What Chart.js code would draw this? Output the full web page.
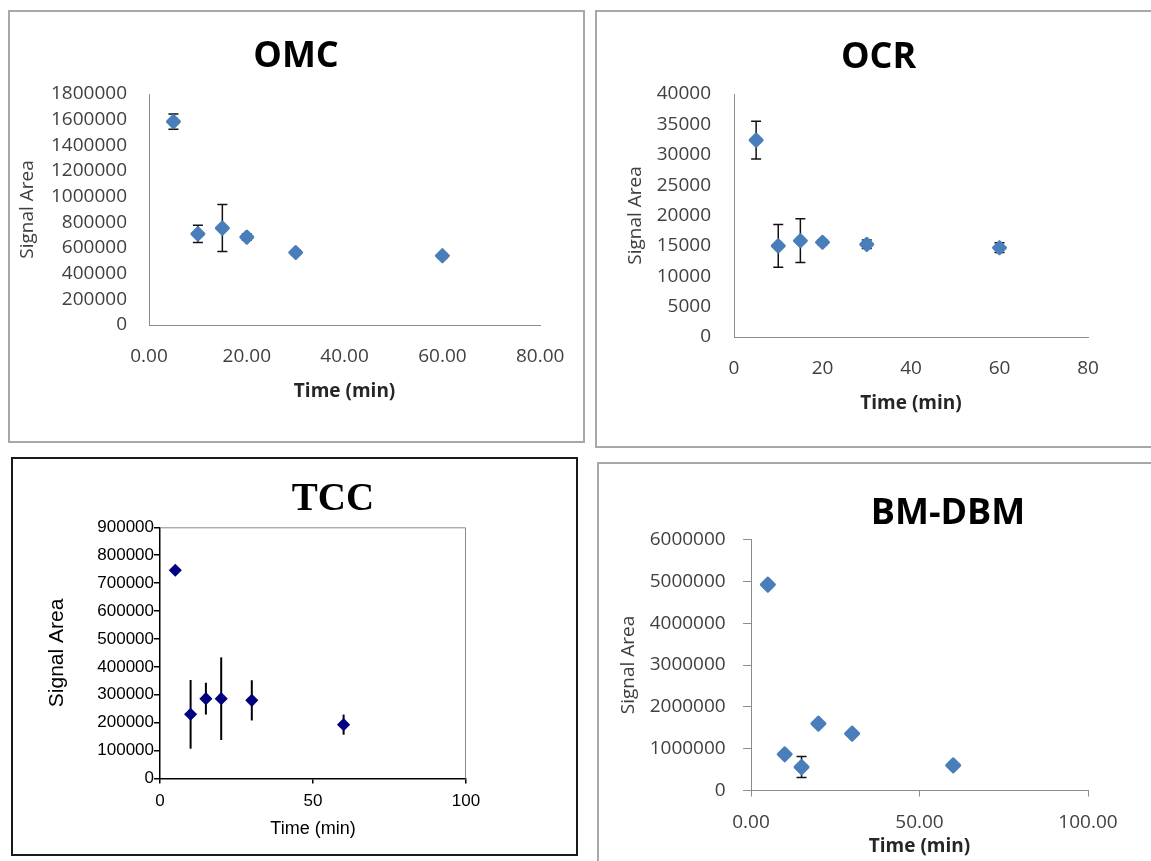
<!DOCTYPE html>
<html>
<head>
<meta charset="utf-8">
<title>Signal Area vs Time</title>
<script src="https://cdn.jsdelivr.net/npm/chart.js@4.4.1/dist/chart.umd.min.js"></script>
<style>
  html, body { margin: 0; padding: 0; background: #fff; }
  body { width: 1151px; height: 861px; overflow: hidden; position: relative; }
  .panel { position: absolute; box-sizing: border-box; border: 2px solid #a8a8a8; }
  .panel.dark { border: 2px solid #1a1a1a; }
  canvas { position: absolute; }
</style>
</head>
<body>
<div class="panel" style="left:8px;top:10px;width:577px;height:433px"></div>
<div class="panel" style="left:595px;top:10px;width:570px;height:438px"></div>
<div class="panel dark" style="left:11px;top:457px;width:567px;height:399px"></div>
<div class="panel" style="left:597px;top:462px;width:570px;height:410px"></div>

<canvas id="omcChart" width="577" height="433" style="left:8px;top:10px"></canvas>
<canvas id="ocrChart" width="555" height="438" style="left:595px;top:10px"></canvas>
<canvas id="tccChart" width="567" height="399" style="left:11px;top:457px"></canvas>
<canvas id="bmChart" width="554" height="399" style="left:597px;top:462px"></canvas>

<script>
// Sampling times (min), same for all four compounds
const times = [5, 10, 15, 20, 30, 60];

// OMC
const omcArea = [1585000, 710000, 755000, 685000, 565000, 540000];
const omcErr = [60000, 68000, 183000, 25000, 15000, 15000];
const omcXTicks = [0, 20, 40, 60, 80];
const omcYTicks = [0, 200000, 400000, 600000, 800000, 1000000, 1200000, 1400000, 1600000, 1800000];

// OCR
const ocrArea = [32400, 15000, 15850, 15600, 15250, 14700];
const ocrErr = [3100, 3500, 3600, 400, 700, 800];
const ocrXTicks = [0, 20, 40, 60, 80];
const ocrYTicks = [0, 5000, 10000, 15000, 20000, 25000, 30000, 35000, 40000];

// TCC
const tccArea = [746000, 230000, 286000, 286000, 280000, 193000];
const tccErr = [0, 123000, 57000, 148000, 72000, 36000];
const tccXTicks = [0, 50, 100];
const tccYTicks = [0, 100000, 200000, 300000, 400000, 500000, 600000, 700000, 800000, 900000];

// BM-DBM
const bmArea = [4920000, 865000, 560000, 1600000, 1360000, 600000];
const bmErr = [0, 0, 250000, 0, 0, 0];
const bmXTicks = [0, 50, 100];
const bmYTicks = [0, 1000000, 2000000, 3000000, 4000000, 5000000, 6000000];

const CALIBRI = "'Open Sans', 'Noto Sans', sans-serif";
const ARIAL = "'Liberation Sans', Arial, sans-serif";
const TIMES = "'Liberation Serif', 'Times New Roman', serif";

// vertical error bars, drawn behind the markers
const errorBars = {
  id: "errorBars",
  beforeDatasetsDraw(chart, args, opts) {
    const ctx = chart.ctx;
    const xs = chart.scales.x, ys = chart.scales.y;
    chart.data.datasets.forEach((ds) => {
      if (!ds.errors) return;
      ctx.save();
      ctx.strokeStyle = opts.color;
      ctx.lineWidth = opts.width;
      ds.data.forEach((pt, i) => {
        const e = ds.errors[i];
        if (!e) return;
        const px = xs.getPixelForValue(pt.x);
        const top = ys.getPixelForValue(pt.y + e);
        const bot = ys.getPixelForValue(pt.y - e);
        ctx.beginPath();
        ctx.moveTo(px, top);
        ctx.lineTo(px, bot);
        if (opts.cap) {
          ctx.moveTo(px - opts.cap, top);
          ctx.lineTo(px + opts.cap, top);
          ctx.moveTo(px - opts.cap, bot);
          ctx.lineTo(px + opts.cap, bot);
        }
        ctx.stroke();
      });
      ctx.restore();
    });
    // softer marker corners, like the Excel markers
    ctx.lineJoin = opts.join || "miter";
  },
};

// chart title placed freely inside the panel
const panelTitle = {
  id: "panelTitle",
  afterDraw(chart, args, opts) {
    const ctx = chart.ctx;
    ctx.save();
    ctx.font = opts.font;
    ctx.fillStyle = opts.color;
    ctx.textAlign = "center";
    ctx.textBaseline = "middle";
    ctx.fillText(opts.text, opts.x, opts.y);
    ctx.restore();
  },
};

// top and right edges of the plot area (TCC only)
const plotFrame = {
  id: "plotFrame",
  beforeDatasetsDraw(chart, args, opts) {
    if (!opts.color) return;
    const { ctx, chartArea: a } = chart;
    ctx.save();
    ctx.strokeStyle = opts.color;
    ctx.lineWidth = 1;
    ctx.beginPath();
    ctx.moveTo(a.left, a.top + 0.5);
    ctx.lineTo(a.right - 0.5, a.top + 0.5);
    ctx.lineTo(a.right - 0.5, a.bottom);
    ctx.stroke();
    ctx.restore();
  },
};

function makeScatter(id, s) {
  const tickFont = { family: s.family, size: s.tickSize };
  return new Chart(document.getElementById(id), {
    type: "scatter",
    data: {
      datasets: [
        {
          data: times.map((t, i) => ({ x: t, y: s.ys[i] })),
          errors: s.errs,
          pointStyle: "rectRot",
          pointRadius: s.radius,
          pointHoverRadius: s.radius,
          backgroundColor: s.color,
          borderColor: s.color,
          borderWidth: s.markerBorder,
        },
      ],
    },
    options: {
      responsive: false,
      animation: false,
      devicePixelRatio: 1,
      events: [],
      layout: { padding: { left: s.padL, right: s.padR, top: s.padT, bottom: 0 } },
      plugins: {
        legend: { display: false },
        tooltip: { enabled: false },
        errorBars: s.errStyle,
        panelTitle: s.title,
        plotFrame: { color: s.frame || null },
      },
      scales: {
        x: {
          type: "linear",
          position: "bottom",
          min: s.xTicks[0],
          max: s.xTicks[s.xTicks.length - 1],
          afterBuildTicks: (sc) => { sc.ticks = s.xTicks.map((v) => ({ value: v })); },
          afterFit: (sc) => { sc.height = s.xH; },
          ticks: {
            callback: s.xFormat,
            font: tickFont,
            color: s.tickColor,
            padding: s.xTickPad,
            maxRotation: 0,
            autoSkip: false,
          },
          grid: {
            display: s.xTickLen > 0,
            drawOnChartArea: false,
            drawTicks: true,
            tickLength: s.xTickLen,
            color: s.axisColor,
            lineWidth: s.axisWidth,
          },
          border: { display: true, color: s.axisColor, width: s.axisWidth },
          title: {
            display: true,
            text: "Time (min)",
            font: { family: s.family, size: s.xTitleSize, weight: s.xTitleWeight },
            color: s.xTitleColor,
            padding: { top: 0, bottom: s.xTitlePad },
          },
        },
        y: {
          type: "linear",
          position: "left",
          min: s.yTicks[0],
          max: s.yTicks[s.yTicks.length - 1],
          afterBuildTicks: (sc) => { sc.ticks = s.yTicks.map((v) => ({ value: v })); },
          afterFit: (sc) => { sc.width = s.yW; },
          ticks: {
            callback: (v) => String(v),
            font: tickFont,
            color: s.tickColor,
            padding: s.yTickPad,
            autoSkip: false,
          },
          grid: {
            display: s.yTickLen > 0,
            drawOnChartArea: false,
            drawTicks: true,
            tickLength: s.yTickLen,
            color: s.axisColor,
            lineWidth: s.axisWidth,
          },
          border: { display: true, color: s.axisColor, width: s.axisWidth },
          title: {
            display: true,
            text: "Signal Area",
            font: { family: s.family, size: s.yTitleSize },
            color: s.yTitleColor,
            padding: { top: 0, bottom: 0 },
          },
        },
      },
    },
    plugins: [errorBars, panelTitle, plotFrame],
  });
}

const excelBlue = "#4a7ebb";
const capBars = { color: "#111", width: 1.5, cap: 5, join: "round" };

makeScatter("omcChart", {
  ys: omcArea, errs: omcErr, xTicks: omcXTicks, yTicks: omcYTicks,
  xFormat: (v) => v.toFixed(2),
  family: CALIBRI, tickSize: 19, tickColor: "#404040",
  color: excelBlue, radius: 6, markerBorder: 3, errStyle: capBars,
  axisColor: "#8c8c8c", axisWidth: 1, xTickLen: 0, yTickLen: 0,
  padL: 8.6, padR: 41, padT: 84, xH: 118, yW: 132.4,
  xTickPad: 20.6, yTickPad: 22,
  xTitleSize: 19, xTitleWeight: "bold", xTitleColor: "#262626", xTitlePad: 40.3,
  yTitleSize: 19, yTitleColor: "#404040",
  title: { text: "OMC", font: "bold 36px " + CALIBRI, color: "#000", x: 288, y: 46.8 },
});

makeScatter("ocrChart", {
  ys: ocrArea, errs: ocrErr, xTicks: ocrXTicks, yTicks: ocrYTicks,
  xFormat: (v) => String(v),
  family: CALIBRI, tickSize: 19, tickColor: "#404040",
  color: excelBlue, radius: 6, markerBorder: 3, errStyle: capBars,
  axisColor: "#8c8c8c", axisWidth: 1, xTickLen: 0, yTickLen: 0,
  padL: 29.3, padR: 62, padT: 84, xH: 111, yW: 109.7,
  xTickPad: 20.6, yTickPad: 23,
  xTitleSize: 19, xTitleWeight: "bold", xTitleColor: "#262626", xTitlePad: 33.3,
  yTitleSize: 19, yTitleColor: "#404040",
  title: { text: "OCR", font: "bold 36px " + CALIBRI, color: "#000", x: 283.6, y: 47.6 },
});

makeScatter("tccChart", {
  ys: tccArea, errs: tccErr, xTicks: tccXTicks, yTicks: tccYTicks,
  xFormat: (v) => String(v),
  family: ARIAL, tickSize: 17, tickColor: "#000",
  color: "#000080", radius: 5.5, markerBorder: 1.5,
  errStyle: { color: "#000", width: 2, cap: 0, join: "miter" },
  axisColor: "#000", axisWidth: 1.5, xTickLen: 5, yTickLen: 6,
  padL: 33.9, padR: 112, padT: 70.3, xH: 77.5, yW: 115.1,
  xTickPad: 7.3, yTickPad: 0,
  xTitleSize: 18, xTitleWeight: "normal", xTitleColor: "#000", xTitlePad: 16.2,
  yTitleSize: 21, yTitleColor: "#000",
  frame: "#8a8a8a",
  title: { text: "TCC", font: "bold 39px " + TIMES, color: "#000", x: 322, y: 43 },
});

makeScatter("bmChart", {
  ys: bmArea, errs: bmErr, xTicks: bmXTicks, yTicks: bmYTicks,
  xFormat: (v) => v.toFixed(2),
  family: CALIBRI, tickSize: 19, tickColor: "#404040",
  color: excelBlue, radius: 6.5, markerBorder: 3, errStyle: capBars,
  axisColor: "#8c8c8c", axisWidth: 1, xTickLen: 6, yTickLen: 8,
  padL: 20.1, padR: 63, padT: 77.5, xH: 70.5, yW: 133.9,
  xTickPad: 14.8, yTickPad: 17.3,
  xTitleSize: 19, xTitleWeight: "bold", xTitleColor: "#262626", xTitlePad: 2.9,
  yTitleSize: 19, yTitleColor: "#404040",
  title: { text: "BM-DBM", font: "bold 36px " + CALIBRI, color: "#000", x: 351, y: 52 },
});
</script>
</body>
</html>
